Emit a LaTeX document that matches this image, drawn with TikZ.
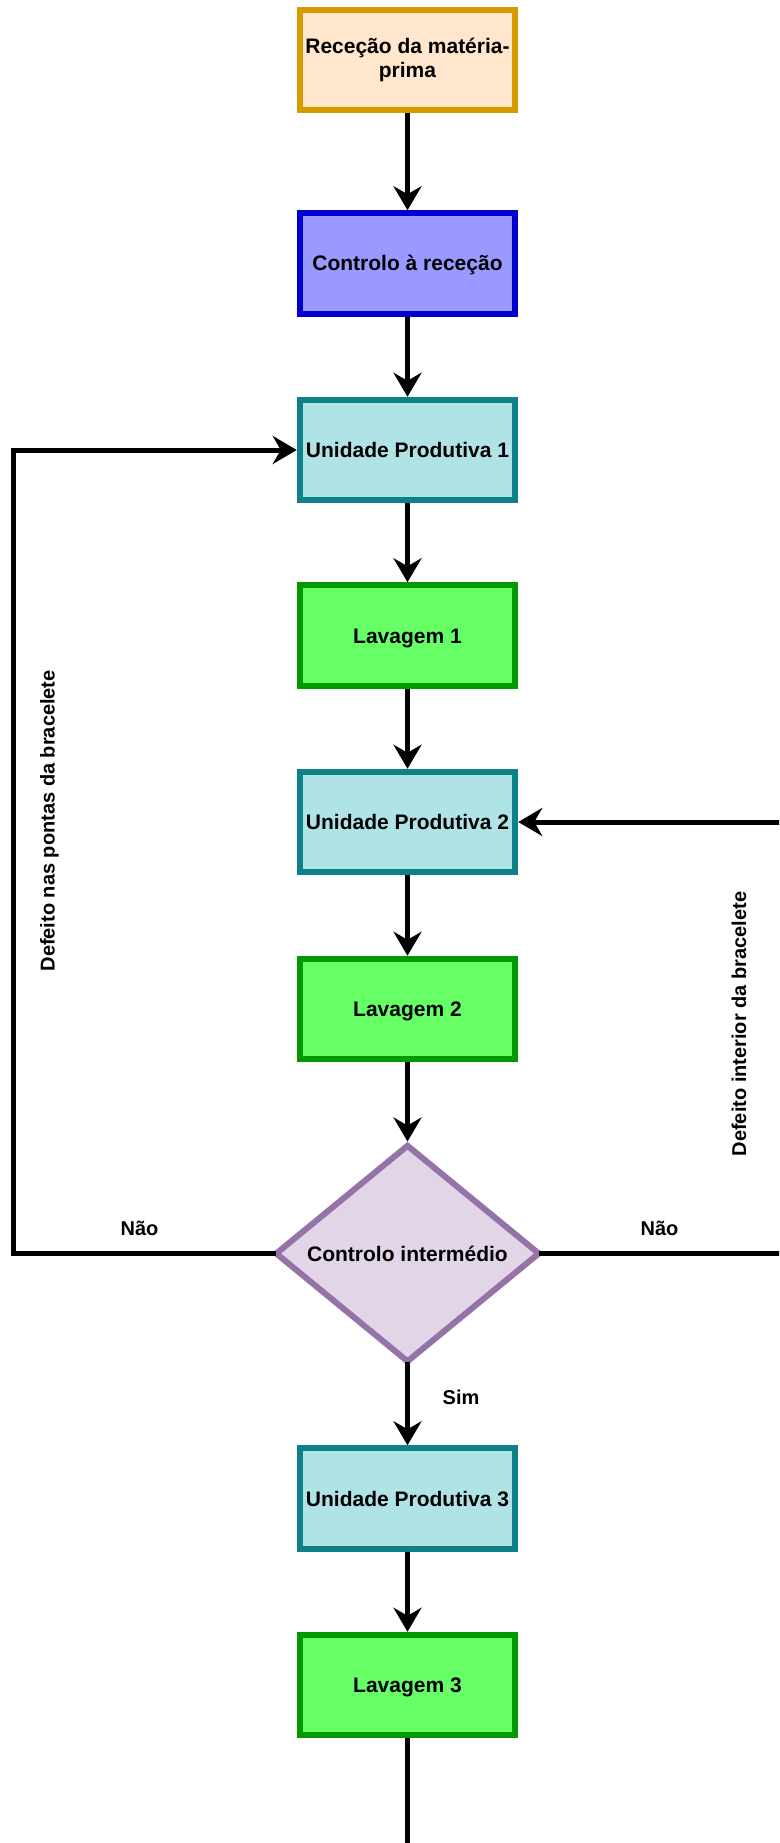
\documentclass[tikz,border=0pt]{standalone}
\usepackage{fontspec}
\setmainfont{Liberation Sans}
\usetikzlibrary{arrows.meta,shapes.geometric}

\definecolor{recfill}{HTML}{FFE6CC}
\definecolor{recline}{HTML}{D79B00}
\definecolor{ctlfill}{HTML}{9999FF}
\definecolor{ctlline}{HTML}{0000CC}
\definecolor{upfill}{HTML}{B0E3E6}
\definecolor{upline}{HTML}{0E8088}
\definecolor{lavfill}{HTML}{66FF66}
\definecolor{lavline}{HTML}{009900}
\definecolor{diafill}{HTML}{E1D5E7}
\definecolor{dialine}{HTML}{9673A6}

\tikzset{
  boxtext/.style={font=\fontsize{21}{24}\selectfont\bfseries},
  stepbox/.style={rectangle, line width=6pt, minimum width=215.5pt,
    minimum height=100.5pt, inner sep=0pt, align=center, boxtext},
  oneline/.style={text height=15pt, text depth=0pt},
  recbox/.style={stepbox, fill=recfill, draw=recline},
  ctlbox/.style={stepbox, fill=ctlfill, draw=ctlline, oneline},
  upbox/.style={stepbox, fill=upfill, draw=upline, oneline},
  lavbox/.style={stepbox, fill=lavfill, draw=lavline, oneline},
  decision/.style={diamond, line width=6pt, fill=diafill, draw=dialine,
    minimum width=265pt, minimum height=218pt, inner sep=0pt},
  conn/.style={line width=5pt, black},
  flow/.style={conn, -{Stealth[length=24pt, width=28pt, inset=8pt]}},
  fromtip/.style={shorten <=-4pt},
  edgelabel/.style={font=\fontsize{20}{24}\selectfont\bfseries, inner sep=0pt, anchor=base},
}

\begin{document}
\begin{tikzpicture}[x=1pt, y=-1pt]
  \useasboundingbox (0,0) rectangle (779,1843);
  \clip (0,0) rectangle (779,1843);
  \fill[white] (0,0) rectangle (779,1843);

  % process column
  \node[recbox] (rec)  at (407.5,60)    {Receção da matéria-\\prima};
  \node[ctlbox] (ctl)  at (407.5,263.5) {Controlo à receção};
  \node[upbox]  (up1)  at (407.5,450)   {Unidade Produtiva 1};
  \node[lavbox] (lav1) at (407.5,635.5) {Lavagem 1};
  \node[upbox]  (up2)  at (407.5,822)   {Unidade Produtiva 2};
  \node[lavbox] (lav2) at (407.5,1009)  {Lavagem 2};
  \node[decision] (dec) at (407.5,1253.5) {};
  \node[boxtext, oneline, inner sep=0pt] (dectext) at (dec) {Controlo intermédio};
  \node[upbox]  (up3)  at (407.5,1498.5) {Unidade Produtiva 3};
  \node[lavbox] (lav3) at (407.5,1685)  {Lavagem 3};

  % free ends of the loops and the outgoing line
  \coordinate (leftx)  at (13.2,0);
  \coordinate (rightx) at (800,0);
  \coordinate (bottom) at (407.5,1870);

  % main flow
  \draw[flow] (rec) -- (ctl);
  \draw[flow] (ctl) -- (up1);
  \draw[flow] (up1) -- (lav1);
  \draw[flow] (lav1) -- (up2);
  \draw[flow] (up2) -- (lav2);
  \draw[flow] (lav2) -- (dec.north);
  \draw[flow, fromtip] (dec.south) -- (up3);
  \draw[flow] (up3) -- (lav3);
  \draw[conn] (lav3) -- (bottom);

  % rework loops
  \draw[flow, fromtip] (dec.west) -- (dec.west -| leftx) |- (up1.west);
  \draw[flow, fromtip] (dec.east) -- (dec.east -| rightx) |- (up2.east);

  % labels
  \node[edgelabel] (naoleft)  at (139.5,1235) {Não};
  \node[edgelabel] (naoright) at (659.5,1235) {Não};
  \node[edgelabel] (sim)      at (461,1404)   {Sim};
  \node[edgelabel, rotate=90] (defpontas)   at (54.5,820.8) {Defeito nas pontas da bracelete};
  \node[edgelabel, rotate=90] (definterior) at (746,1024)   {Defeito interior da bracelete};
\end{tikzpicture}
\end{document}
